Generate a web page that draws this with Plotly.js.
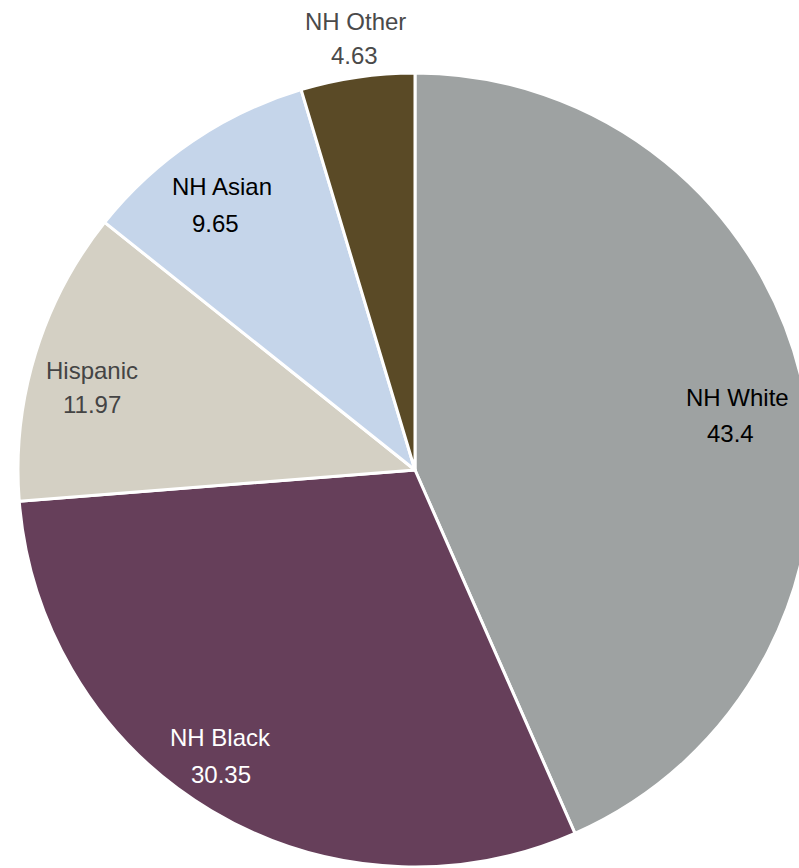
<!DOCTYPE html>
<html>
<head>
<meta charset="utf-8">
<script src="https://cdn.plot.ly/plotly-3.0.1.min.js"></script>
<style>
html, body { margin: 0; padding: 0; overflow: hidden; background: #fff; }
#chart { width: 830px; height: 868px; }
</style>
</head>
<body>
<div id="chart"></div>
<script>
const categories = ['NH White', 'NH Black', 'Hispanic', 'NH Asian', 'NH Other'];
const values = [43.4, 30.35, 11.97, 9.65, 4.63];
const colors = ['#9EA2A2', '#663F5A', '#D4D0C4', '#C5D5EA', '#5A4A26'];
const textColors = ['#000000', '#FFFFFF', '#444444', '#000000', '#4A4A4A'];

const W = 830, H = 868;
const cx = 415, cy = 470, r = 397;

// label placement (pixel centres: name line, value line)
const labelPos = [
  [[737, 397], [730, 433]],
  [[220, 737], [221, 774]],
  [[92, 370], [92, 404]],
  [[222, 187], [215, 223]],
  [[355, 22], [354, 56]]
];

const FONT = '"Liberation Sans", Arial, sans-serif';

const trace = {
  type: 'pie',
  labels: categories,
  values: values,
  sort: false,
  direction: 'clockwise',
  rotation: 0,
  marker: { colors: colors, line: { color: '#FFFFFF', width: 3 } },
  textinfo: 'none',
  domain: { x: [(cx - r) / W, (cx + r) / W], y: [(H - cy - r) / H, (H - cy + r) / H] },
  hoverinfo: 'label+value'
};

const annotations = [];
categories.forEach((c, i) => {
  const texts = [c, String(values[i])];
  texts.forEach((t, j) => {
    annotations.push({
      xref: 'paper', yref: 'paper',
      x: labelPos[i][j][0] / W,
      y: 1 - labelPos[i][j][1] / H,
      xanchor: 'center', yanchor: 'middle',
      text: t,
      showarrow: false,
      font: { family: FONT, size: 24, color: textColors[i] }
    });
  });
});

const layout = {
  width: W,
  height: H,
  margin: { l: 0, r: 0, t: 0, b: 0 },
  showlegend: false,
  paper_bgcolor: '#FFFFFF',
  font: { family: FONT },
  annotations: annotations
};

Plotly.newPlot('chart', [trace], layout, { displayModeBar: false, staticPlot: true });
</script>
</body>
</html>
